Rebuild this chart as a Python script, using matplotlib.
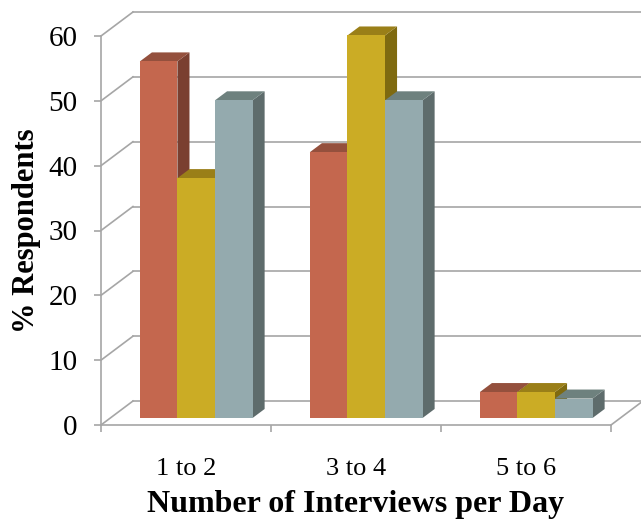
import numpy as np
import matplotlib
matplotlib.use("Agg")
import matplotlib.pyplot as plt
from matplotlib.patches import Polygon

categories = ["1 to 2", "3 to 4", "5 to 6"]
series_a = [55, 41, 4]
series_b = [37, 59, 4]
series_c = [49, 49, 3]
yticks = [0, 10, 20, 30, 40, 50, 60]

front_cols = ["#C4674E", "#CBAC25", "#94AAAE"]
top_cols = ["#94503D", "#9A7F18", "#6E817E"]
side_cols = ["#7A3F30", "#7F6A10", "#5E6C6C"]
grid_col = "#A6A6A6"

plt.rcParams["font.family"] = "Liberation Serif"

fig = plt.figure(figsize=(6.41, 5.21), dpi=100)
ax = fig.add_axes([101 / 641, 1 - 425 / 521, 510 / 641, 389 / 521])
ax.set_xlim(-0.5, 2.5)
ax.set_ylim(0, 60)

# fake 3d offsets, in data units
wall_dx, wall_dy = 0.188, 3.7
base_dx, base_dy = 0.06, 1.08
depth_dx, depth_dy = 0.071, 1.39
bar_w = 0.221

# walls and floor
for t in yticks:
    ax.plot([-0.5, -0.5 + wall_dx], [t, t + wall_dy], color=grid_col, lw=1.2, clip_on=False, zorder=1)
    ax.plot([-0.5 + wall_dx, 2.5 + wall_dx], [t + wall_dy, t + wall_dy], color=grid_col, lw=1.2, clip_on=False, zorder=1)
ax.plot([2.5, 2.5 + wall_dx], [0, wall_dy], color=grid_col, lw=1.2, clip_on=False, zorder=1)

# bars, left to right so each front hides the side before it
for i in range(len(categories)):
    vals = [series_a[i], series_b[i], series_c[i]]
    for j in range(3):
        x0 = i + base_dx + (j - 1.5) * bar_w
        x1 = x0 + bar_w
        y0 = base_dy
        y1 = base_dy + vals[j]
        side = [(x1, y0), (x1, y1), (x1 + depth_dx, y1 + depth_dy), (x1 + depth_dx, y0 + depth_dy)]
        top = [(x0, y1), (x1, y1), (x1 + depth_dx, y1 + depth_dy), (x0 + depth_dx, y1 + depth_dy)]
        z = 3 + i + j * 0.1
        ax.add_patch(Polygon(side, fc=side_cols[j], ec="none", zorder=z, clip_on=False))
        ax.add_patch(Polygon(top, fc=top_cols[j], ec="none", zorder=z, clip_on=False))
        ax.bar(x0, vals[j], bar_w, bottom=y0, align="edge", color=front_cols[j], zorder=z + 0.01, clip_on=False)

for s in ["top", "right"]:
    ax.spines[s].set_visible(False)
for s in ["left", "bottom"]:
    ax.spines[s].set_color(grid_col)
    ax.spines[s].set_linewidth(1.2)

ax.set_yticks(yticks)
ax.set_yticklabels([str(t) for t in yticks], fontsize=21)
ax.tick_params(axis="y", length=5, width=1.2, color=grid_col, pad=12)
ax.set_xticks([-0.5, 0.5, 1.5, 2.5])
ax.set_xticklabels([])
ax.tick_params(axis="x", which="major", length=5, width=1.2, color=grid_col)
ax.set_xticks([0, 1, 2], minor=True)
ax.set_xticklabels(categories, minor=True, fontsize=19)
ax.tick_params(axis="x", which="minor", length=0, pad=24)

ax.set_xlabel("Number of Interviews per Day", fontsize=23, fontweight="bold", labelpad=7)
ax.set_ylabel("% Respondents", fontsize=22, fontweight="bold", labelpad=5)

fig.savefig("out.png", dpi=100)
